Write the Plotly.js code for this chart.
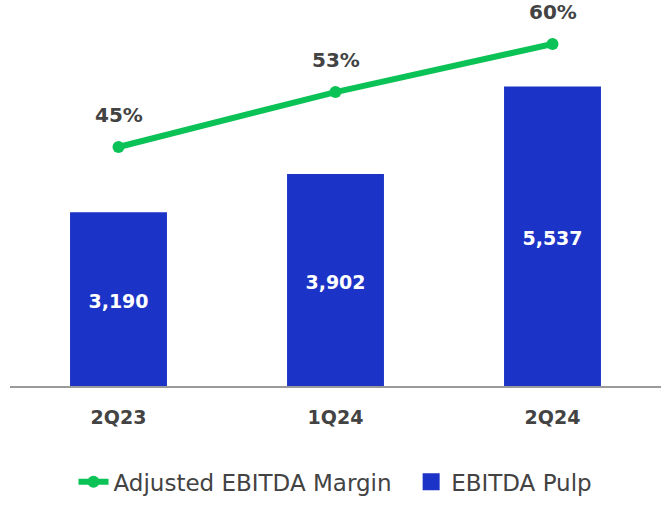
<!DOCTYPE html>
<html>
<head>
<meta charset="utf-8">
<script src="https://cdn.plot.ly/plotly-3.0.1.min.js"></script>
<style>html,body{margin:0;padding:0;background:#fff}#chart{width:672px;height:518px}</style>
</head>
<body>
<div id="chart"></div>
<script>
const categories = ["2Q23", "1Q24", "2Q24"];
const ebitdaPulp = [3190, 3902, 5537];
const adjustedMargin = [45, 53, 60];
const seriesNames = ["Adjusted EBITDA Margin", "EBITDA Pulp"];

const FONT = '"DejaVu Sans", "Noto Sans", sans-serif';
const GREEN = '#0BC257';
const BLUE = '#1B33C6';
const GREY = '#434343';
const GAP = '\u00a0\u00a0';

const lineTrace = {
  type: 'scatter', mode: 'lines+markers', name: seriesNames[0] + GAP,
  x: categories, y: adjustedMargin, yaxis: 'y2',
  line: {color: GREEN, width: 6},
  marker: {color: GREEN, size: 12},
  hoverinfo: 'skip'
};
const barTrace = {
  type: 'bar', name: seriesNames[1],
  x: categories, y: ebitdaPulp,
  marker: {color: BLUE, line: {color: BLUE, width: 6}},
  width: 0.419,
  text: ebitdaPulp.map(v => '<b>' + v.toLocaleString('en-US') + '</b>'),
  textposition: 'inside', insidetextanchor: 'middle',
  textfont: {color: '#ffffff', size: 19, family: FONT},
  hoverinfo: 'skip'
};

const annotations = categories.map((c, i) => ({
  x: c, y: adjustedMargin[i], xref: 'x', yref: 'y2',
  text: '<b>' + adjustedMargin[i] + '%</b>',
  showarrow: false, yshift: 32,
  font: {size: 20, color: GREY, family: FONT}
}));

const layout = {
  width: 672, height: 518,
  margin: {l: 10, r: 11, t: 10, b: 132},
  paper_bgcolor: '#ffffff', plot_bgcolor: '#ffffff',
  font: {family: FONT, color: GREY},
  showlegend: true,
  legend: {
    orientation: 'h', x: 0.5, xanchor: 'center', y: -0.255, yanchor: 'middle',
    font: {size: 23, color: GREY, family: FONT}, traceorder: 'normal'
  },
  xaxis: {
    type: 'category', range: [-0.5, 2.5],
    showgrid: false, zeroline: false,
    showline: true, linecolor: '#9a9a9a', linewidth: 2,
    ticks: '', ticklabelstandoff: 13,
    tickfont: {size: 19, color: GREY, family: FONT},
    tickvals: categories, ticktext: categories.map(c => '<b>' + c + '</b>')
  },
  yaxis: {range: [0, 7020], visible: false, showgrid: false, zeroline: false},
  yaxis2: {range: [10.2, 64.95], overlaying: 'y', side: 'right', visible: false, showgrid: false, zeroline: false},
  annotations: annotations,
  bargap: 0.5
};

Plotly.newPlot('chart', [lineTrace, barTrace], layout, {displayModeBar: false, staticPlot: true});
</script>
</body>
</html>
